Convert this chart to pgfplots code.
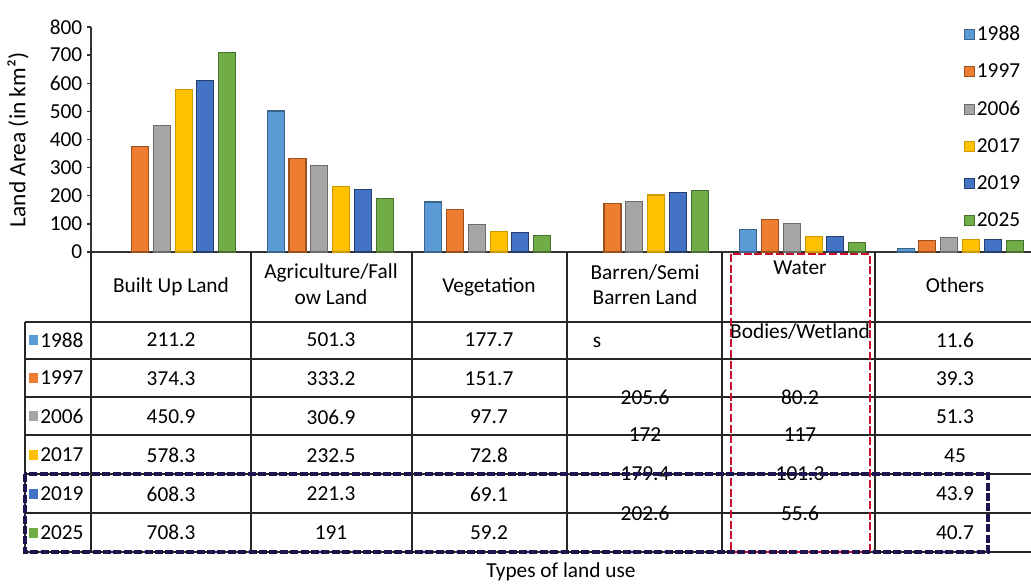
\documentclass[border=0pt]{standalone}
\usepackage{fontspec}
\setmainfont{Carlito}
\usepackage{pgfplots}
\usepackage{pgfplotstable}
\pgfplotsset{compat=1.18}
\definecolor{c1}{HTML}{5B9BD5}
\definecolor{c2}{HTML}{ED7D31}
\definecolor{c3}{HTML}{A5A5A5}
\definecolor{c4}{HTML}{FFC000}
\definecolor{c5}{HTML}{4472C4}
\definecolor{c6}{HTML}{70AD47}
\definecolor{redbox}{HTML}{C8102E}
\definecolor{navybox}{HTML}{1E1450}
\newcommand\tf{\fontsize{16}{19}\selectfont}
\pgfplotstableread{
x y1988 y1997 y2006 y2017 y2019 y2025
0 nan 374.3 450.9 578.3 608.3 708.3
1 501.3 333.2 306.9 232.5 221.3 191
2 177.7 151.7 97.7 72.8 69.1 59.2
3 nan 172 179.4 202.6 210.5 220
4 80.2 117 101.3 55.6 53.5 35
5 11.6 39.3 51.3 45 43.9 40.7
}\landdata
\begin{document}
\begin{tikzpicture}[x=0.75pt,y=0.75pt]
\useasboundingbox (0,0) rectangle (1031,-583);
\begin{axis}[
  at={(68.25pt,-189pt)}, anchor=south west,
  scale only axis, width=705pt, height=168.75pt,
  xmin=-0.519, xmax=5.45, ymin=0, ymax=800,
  axis x line=bottom, axis y line=left,
  axis line style={-, draw=black!80, line width=1.3pt},
  xtick=\empty,
  ytick={0,100,...,800},
  tick align=outside, major tick length=3pt,
  tick style={draw=black!80, line width=1pt},
  yticklabel style={font=\tf},
  /pgf/number format/assume math mode=true,
  ybar=3.6pt, bar width=12.75pt,
  legend style={at={(0.993,1.025)}, anchor=north east, draw=none, fill=none,
    font=\tf, row sep=12pt, inner sep=1pt},
  legend cell align=left,
  sq/.style={legend image code/.code={\draw[##1, line width=0.4pt] (0pt,-3.75pt) rectangle (7.5pt,3.75pt);}},
]
\addplot[fill=c1, draw=c1!65!black, line width=0.8pt, sq] table[x=x,y=y1988]{\landdata};
\addplot[fill=c2, draw=c2!65!black, line width=0.8pt, sq] table[x=x,y=y1997]{\landdata};
\addplot[fill=c3, draw=c3!65!black, line width=0.8pt, sq] table[x=x,y=y2006]{\landdata};
\addplot[fill=c4, draw=c4!80!black, line width=0.8pt, sq] table[x=x,y=y2017]{\landdata};
\addplot[fill=c5, draw=c5!55!black, line width=0.8pt, sq] table[x=x,y=y2019]{\landdata};
\addplot[fill=c6, draw=c6!65!black, line width=0.8pt, sq] table[x=x,y=y2025]{\landdata};
\legend{1988,1997,2006,2017,2019,2025}
\end{axis}
% table grid
\begin{scope}[draw=black!85, line width=1.4pt]
\foreach \xx in {91,251,412,567,722,875} \draw (\xx,-252) -- (\xx,-552);
\draw (25,-322) -- (25,-552);
\foreach \yy in {322,359,397,435,474,513,552} \draw (25,-\yy) -- (1031,-\yy);
\end{scope}
\begin{scope}[every node/.style={font=\tf, inner sep=0pt}]
\node at (171,-287) {Built Up Land};
\node at (331,-273) {Agriculture/Fall};
\node at (331,-297) {ow Land};
\node at (489,-287) {Vegetation};
\node at (645,-273) {Barren/Semi};
\node at (645,-297) {Barren Land};
\node at (800,-268) {Water};
\node at (955,-285) {Others};
% row labels
\foreach \lab/\col/\yy in {1988/c1/340,1997/c2/378,2006/c3/416,2017/c4/454.5,2019/c5/493.5,2025/c6/532.5}{
  \fill[\col] (29,-\yy-5) rectangle (38,-\yy+5);
  \node[anchor=west] at (40,-\yy) {\lab};
}
% values
\foreach \v [count=\i] in {211.2,374.3,450.9,578.3,608.3,708.3}{
  \pgfmathsetmacro\yy{-340-(\i-1)*38.5}\node at (171,\yy) {\v};}
\foreach \v [count=\i] in {501.3,333.2,306.9,232.5,221.3,191}{
  \pgfmathsetmacro\yy{-340-(\i-1)*38.5}\node at (331,\yy) {\v};}
\foreach \v [count=\i] in {177.7,151.7,97.7,72.8,69.1,59.2}{
  \pgfmathsetmacro\yy{-340-(\i-1)*38.5}\node at (489,\yy) {\v};}
\foreach \v [count=\i] in {11.6,39.3,51.3,45,43.9,40.7}{
  \pgfmathsetmacro\yy{-340-(\i-1)*38.5}\node at (955,\yy) {\v};}
% displaced cells
\node at (597,-342) {s};
\node at (645,-397) {205.6};
\node at (645,-435) {172};
\node at (645,-474) {179.4};
\node at (645,-513) {202.6};
\node at (800,-332) {Bodies/Wetland};
\node at (800,-397) {80.2};
\node at (800,-435) {117};
\node at (800,-474) {101.3};
\node at (800,-513) {55.6};
\node at (561,-572) {Types of land use};
\node[rotate=90, font=\fontsize{17.5}{20}\selectfont] at (18,-140) {Land Area (in km²)};
\end{scope}
% highlight boxes
\draw[redbox, line width=2.2pt, dash pattern=on 6pt off 2pt] (731,-254) rectangle (870,-552);
\draw[navybox, line width=2.8pt, dash pattern=on 6pt off 1.8pt] (25,-474) rectangle (988,-552);
\end{tikzpicture}
\end{document}
